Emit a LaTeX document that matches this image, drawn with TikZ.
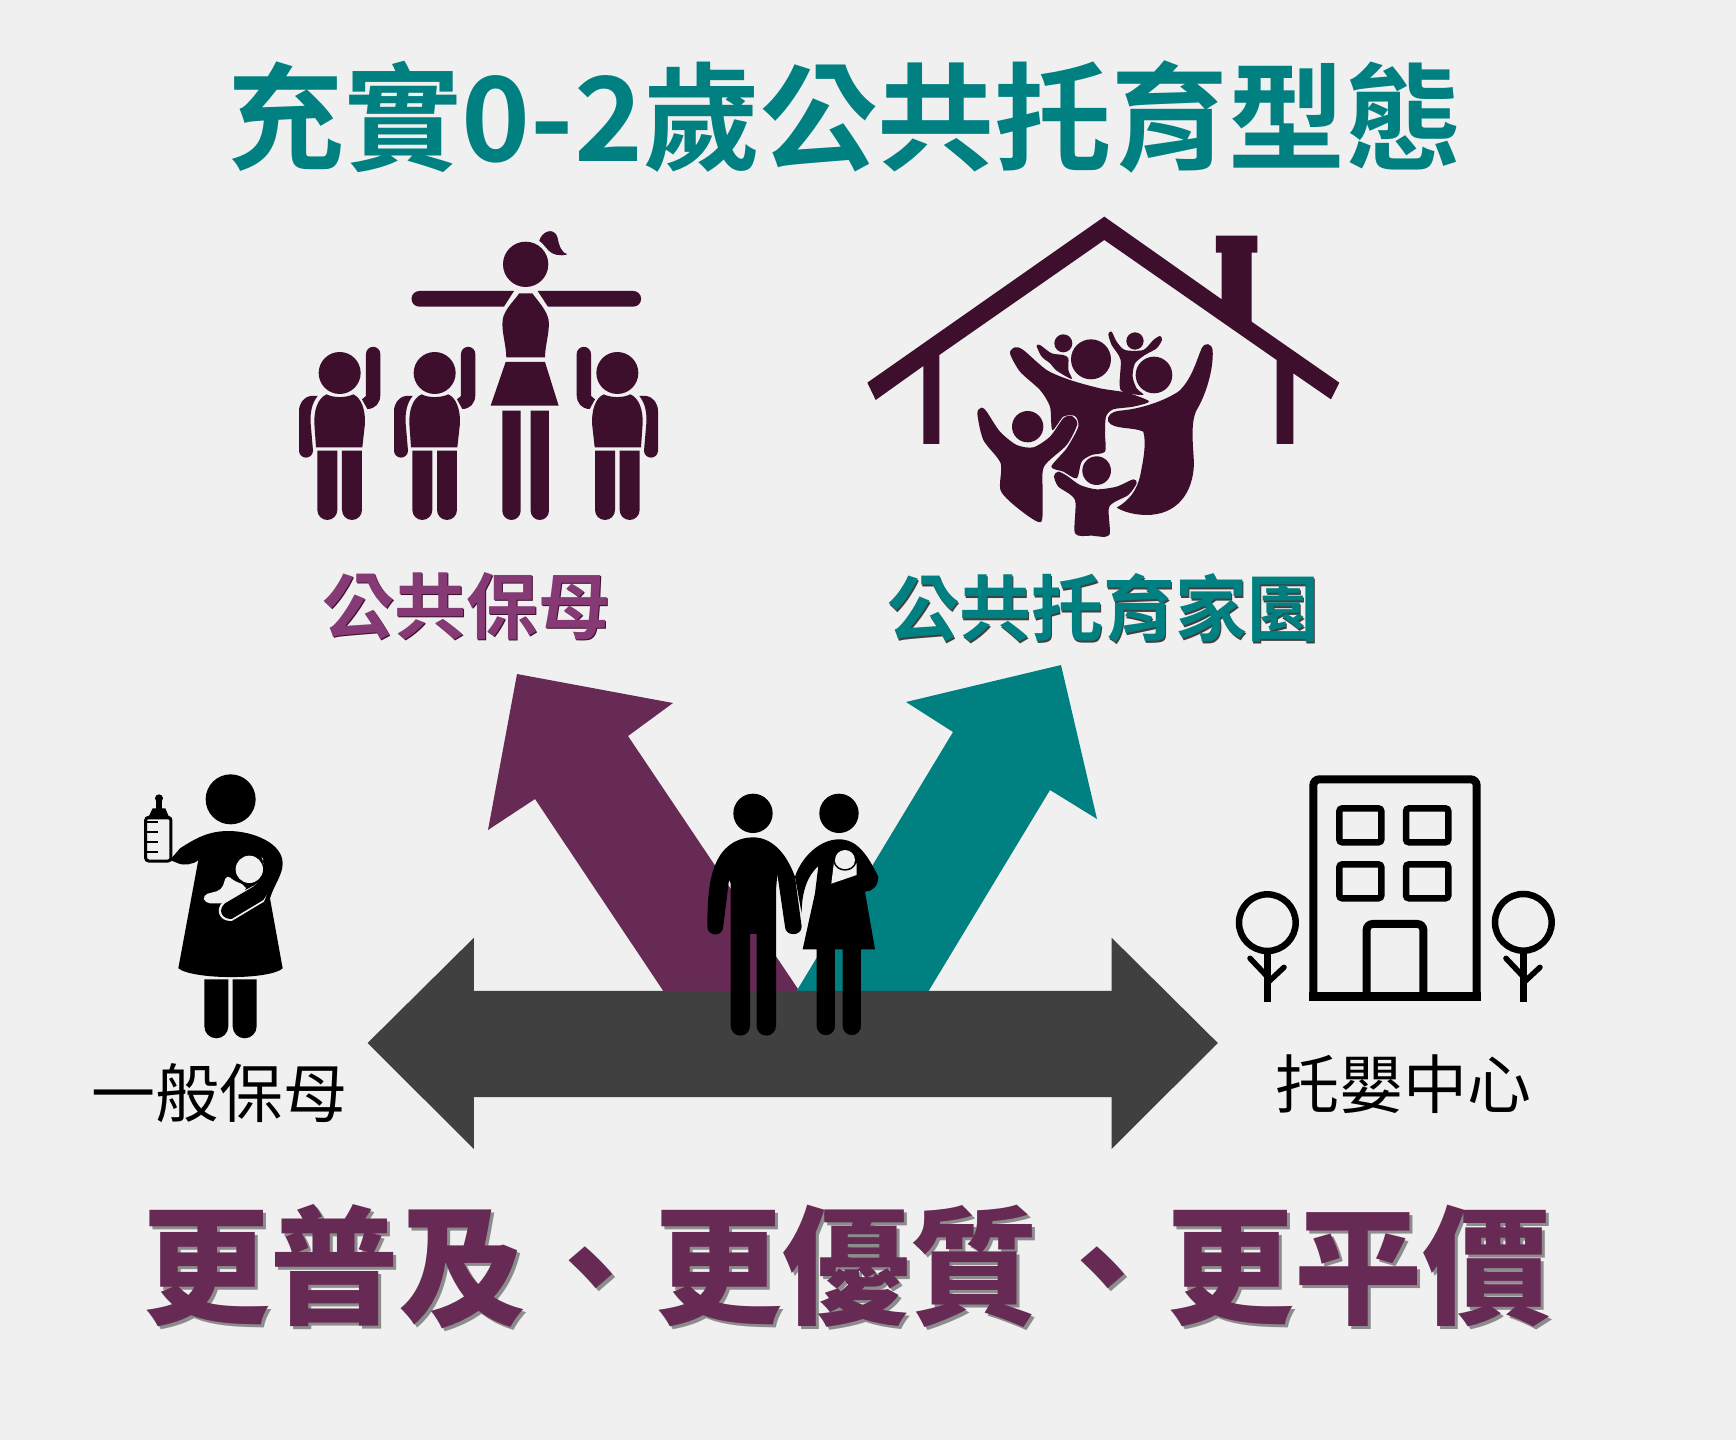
\documentclass[tikz,border=0pt]{standalone}
\usepackage{fontspec}
\setmainfont{Noto Sans CJK TC}[BoldFont={Noto Sans CJK TC Bold}]
\newfontfamily\cjkblack{Noto Sans CJK TC Black}
\definecolor{bgc}{HTML}{F0F0F0}
\definecolor{tealc}{HTML}{008080}
\definecolor{plumc}{HTML}{662A54}
\definecolor{plumlabel}{HTML}{853A75}
\definecolor{darkplum}{HTML}{3D0F2D}
\definecolor{greyc}{HTML}{404040}
\newcommand{\shadowed}[4]{\makebox[0pt][l]{\kern#3\raisebox{-#3}{\textcolor{#4}{#2}}}\textcolor{#1}{#2}}
\newcommand{\roundleg}[4]{(#1,#3) -- (#1,{#4-(#2-#1)/2}) arc[start angle=180,end angle=0,radius={(#2-#1)/2}] -- (#2,#3) -- cycle}
\newcommand{\kidicon}{%
  \fill (179,489) circle (63);
  \fill (140,553) .. controls (160,564) and (198,564) .. (220,553) .. controls (245,565) and (256,600) .. (255,640) -- (247,712) -- (108,712) -- (103,640) .. controls (102,600) and (113,565) .. cycle;
  \fill \roundleg{112}{172}{722}{930};
  \fill \roundleg{186}{246}{722}{930};
  \fill (113,558) -- (92,558) .. controls (70,562) and (57,580) .. (57,605) -- (57,722) arc[start angle=180,end angle=0,radius=21] -- (92,640) .. controls (90,610) and (95,580) .. cycle;
  \fill (258,432) arc[start angle=180,end angle=360,radius=21.5] -- (301,555) .. controls (301,580) and (285,597) .. (262,597) -- (246,568) -- (258,558) -- cycle;
}
\tikzset{
  zoomframe/.style 2 args={shift={(#1,#2)},x=0.3333pt,y=-0.3333pt},
  lbl/.style={inner sep=0pt,outer sep=0pt,anchor=center},
  win/.style={draw=black,line width=6.5pt,rounded corners=3pt},
  treeline/.style={draw=black,line width=6.5pt},
  branch/.style={draw=black,line width=5.5pt,line cap=round},
}
\begin{document}
\begin{tikzpicture}[x=1pt,y=-1pt]
\fill[bgc] (0,0) rectangle (1736,1440);
\useasboundingbox (0,0) rectangle (1736,1440);

% ---------- titles ----------
\node[lbl,text=tealc,font=\fontsize{117}{117}\selectfont\bfseries] (title) at (845,117) {充實0-2歲公共托育型態};
\node[lbl,font=\fontsize{72}{72}\selectfont\bfseries] (pubnanny) at (466,607) {\shadowed{plumlabel}{公共保母}{1.5pt}{darkplum}};
\node[lbl,font=\fontsize{72}{72}\selectfont\bfseries] (pubhome) at (1103,609) {\shadowed{tealc}{公共托育家園}{1.5pt}{black!75}};
\node[lbl,text=black,font=\fontsize{64}{64}\selectfont] (nanny) at (219,1093) {一般保母};
\node[lbl,text=black,font=\fontsize{64}{64}\selectfont] (center) at (1403,1084) {托嬰中心};
\node[lbl,font=\fontsize{128}{128}\selectfont\cjkblack] (slogan) at (846,1268) {\shadowed{plumc}{更普及、更優質、更平價}{3pt}{black!45}};

% ---------- arrows ----------
\fill[plumc] (517,674) -- (673,703) -- (628,736) -- (800,992) -- (664,992) -- (535,799) -- (488,830) -- cycle;
\fill[tealc] (1061,665) -- (906,702) -- (953,732) -- (796,992) -- (928,992) -- (1050,790) -- (1097,819) -- cycle;
\fill[greyc] (367.6,1043) -- (473.9,937.7) -- (473.9,990.9) -- (1111.6,990.9) -- (1111.6,937.7) -- (1217.8,1043) -- (1111.6,1149) -- (1111.6,1097) -- (473.9,1097) -- (473.9,1149) -- cycle;

% ---------- teacher and children ----------
\begin{scope}[zoomframe={280}{210},darkplum]
  \fill (737,163) circle (68);
  \fill (778,92) .. controls (785,65) and (820,50) .. (832,80) .. controls (838,110) and (845,128) .. (862,133) .. controls (840,140) and (815,135) .. (800,115) .. controls (792,105) and (785,98) .. cycle;
  \fill (418,243) -- (702,243) -- (672,290) -- (418,290) arc[start angle=90,end angle=270,radius=23.5] -- cycle;
  \fill (773,243) -- (1060,243) arc[start angle=-90,end angle=90,radius=23.5] -- (804,290) -- cycle;
  \fill (718,250) -- (757,250) .. controls (775,275) and (800,300) .. (806,330) .. controls (810,365) and (796,400) .. (795,442) -- (679,442) .. controls (678,400) and (664,365) .. (668,330) .. controls (672,300) and (700,275) .. cycle;
  \fill (677,456) -- (795,456) -- (836,587) -- (632,587) -- cycle;
  \fill \roundleg{667}{722}{602}{930};
  \fill \roundleg{752}{807}{602}{930};
  \kidicon
\end{scope}
\begin{scope}[zoomframe={375}{210},darkplum]
  \kidicon
\end{scope}
\begin{scope}[shift={(677,210)},x=-0.3333pt,y=-0.3333pt,darkplum]
  \kidicon
\end{scope}

% ---------- house and family ----------
\begin{scope}[zoomframe={850}{200},darkplum]
  \fill (763,50) -- (1115,298) -- (1115,158) -- (1098,158) -- (1098,107) -- (1222,107) -- (1222,158) -- (1205,158) -- (1205,365) -- (1468,548) -- (1443,598) -- (1330,520) -- (1330,732) -- (1280,732) -- (1280,480) -- (763,120) -- (268,465) -- (268,732) -- (220,732) -- (220,498) -- (77,600) -- (52,548) -- cycle;
  \fill (640,430) circle (27);
  \fill (723,478) circle (60);
  \fill (855,423) circle (26);
  \fill (912,525) circle (55);
  \fill (533,680) circle (47);
  \fill (740,812) circle (43);
  % small child top left
  \fill plot[smooth cycle,tension=0.45] coordinates {(560,438) (570,435) (605,460) (640,465) (655,475) (655,510) (665,537) (620,512) (600,490) (575,470)};
  % small child top right
  \fill plot[smooth cycle,tension=0.45] coordinates {(775,402) (785,395) (800,425) (825,450) (880,450) (910,420) (930,408) (936,420) (920,445) (885,465) (855,490) (848,530) (860,565) (880,585) (812,570) (812,480) (785,435)};
  % central parent
  \fill plot[smooth cycle,tension=0.45] coordinates {(480,460) (495,442) (520,450) (590,510) (660,540) (750,565) (830,578) (897,604) (850,620) (790,628) (768,650) (765,700) (765,755) (725,765) (695,785) (680,835) (640,815) (604,800) (650,745) (685,680) (675,648) (640,650) (607,690) (600,620) (570,570) (510,515)};
  % left child
  \fill plot[smooth cycle,tension=0.45] coordinates {(382,640) (395,623) (410,635) (450,695) (500,735) (550,742) (600,710) (640,655) (665,648) (682,672) (650,735) (582,800) (578,880) (573,966) (510,930) (452,872) (452,790) (400,720)};
  % right parent
  \fill (800,923) .. controls (840,900) and (860,870) .. (870,830) .. controls (880,780) and (890,730) .. (880,695) .. controls (850,680) and (790,690) .. (775,665) .. controls (770,645) and (785,635) .. (810,632) .. controls (860,628) and (930,610) .. (985,575) .. controls (1025,540) and (1040,480) .. (1055,445) .. controls (1065,425) and (1085,430) .. (1088,450) .. controls (1092,510) and (1065,590) .. (1040,630) .. controls (1020,670) and (1030,740) .. (1032,790) .. controls (1030,880) and (980,945) .. (890,945) .. controls (860,945) and (825,938) .. cycle;
  % bottom child
  \fill plot[smooth cycle,tension=0.45] coordinates {(612,828) (625,815) (650,827) (690,855) (740,868) (800,860) (850,838) (860,850) (835,885) (778,920) (778,1005) (725,1007) (675,1000) (675,900) (625,860)};
\end{scope}

% ---------- nanny with baby ----------
\begin{scope}[zoomframe={130}{760},black]
  \fill (302,118) circle (75);
  \fill (150,265) .. controls (190,240) and (230,213) .. (295,213) .. controls (370,213) and (458,250) .. (458,310) .. controls (458,345) and (432,375) .. (420,415) -- (458,625) .. controls (420,660) and (190,660) .. (145,625) -- (205,300) .. controls (190,315) and (160,315) .. (150,312) -- (120,300) -- cycle;
  \fill \roundleg{223}{295}{658}{835};
  \fill \roundleg{308}{380}{658}{835};
  % bottle
  \draw[line width=3pt,rounded corners=3pt,fill=bgc] (47,172) rectangle (123,303);
  \fill (87,115) circle (12);
  \fill (78,120) rectangle (96,150);
  \fill (52,178) -- (68,145) -- (106,145) -- (120,178) -- cycle;
  \foreach \yy in {187,216,247,277}{\fill (50,\yy-3) rectangle (85,\yy+3);}
  % baby
  \fill[bgc] (358,328) circle (41);
  \fill[bgc,rounded corners=5pt] (290,343) -- (310,362) -- (345,375) -- (350,395) -- (285,430) -- (225,430) -- (218,405) -- (275,390) -- cycle;
  \fill[bgc] (395,290) .. controls (415,320) and (410,350) .. (375,375) -- (280,425) .. controls (255,445) and (265,485) .. (305,483) -- (402,425) -- (420,380) -- cycle;
  \fill (398,300) .. controls (410,335) and (395,360) .. (370,380) -- (285,430) .. controls (262,450) and (275,478) .. (305,477) -- (400,420) -- (440,360) -- (450,300) -- cycle;
\end{scope}

% ---------- couple ----------
\begin{scope}[zoomframe={690}{780},black]
  \fill (189,100) circle (59);
  \fill (447,100) circle (59);
  \fill (52,438) .. controls (52,340) and (60,280) .. (85,235) .. controls (110,190) and (150,172) .. (189,172) .. controls (240,172) and (285,210) .. (315,290) -- (335,440) .. controls (335,470) and (285,470) .. (285,440) -- (262,282) -- (258,330) -- (258,738) arc[start angle=0,end angle=180,radius=29] -- (200,462) -- (180,462) -- (180,738) arc[start angle=0,end angle=180,radius=29] -- (122,310) -- (117,300) -- (100,438) .. controls (100,472) and (52,472) .. cycle;
  \fill (315,290) .. controls (335,230) and (390,178) .. (447,178) .. controls (500,178) and (530,220) .. (565,290) .. controls (565,320) and (545,335) .. (525,335) -- (555,508) -- (513,508) -- (513,738) arc[start angle=0,end angle=180,radius=27.5] -- (458,508) -- (435,508) -- (435,738) arc[start angle=0,end angle=180,radius=27.5] -- (380,508) -- (338,508) -- (375,340) -- (385,258) .. controls (355,285) and (335,330) .. (335,400) -- cycle;
  \fill[bgc] (432,245) -- (424,311) -- (500,285) -- (500,250) -- cycle;
  \fill[bgc] (465,240) circle (30);
  \draw[line width=1.5pt] (432,245) .. controls (440,278) and (490,278) .. (498,245);
\end{scope}

% ---------- building with trees ----------
\begin{scope}[zoomframe={1220}{760},black]
  \draw[line width=8pt,rounded corners=6pt] (280,722) -- (280,58) -- (770,58) -- (770,722);
  \fill (267,697) rectangle (783,722);
  \draw[win] (358,145) rectangle (484,247);
  \draw[win] (558,145) rectangle (685,247);
  \draw[win] (358,313) rectangle (484,415);
  \draw[win] (558,313) rectangle (685,415);
  \draw[line width=8pt,rounded corners=6pt] (440,710) -- (440,492) -- (610,492) -- (610,710);
  \draw[treeline] (142,488) circle (85);
  \draw[treeline] (142,573) -- (142,727);
  \draw[branch] (90,595) -- (142,650);
  \draw[branch] (192,622) -- (146,665);
  \draw[treeline] (910,487) circle (85);
  \draw[treeline] (910,572) -- (910,725);
  \draw[branch] (858,595) -- (910,650);
  \draw[branch] (960,622) -- (914,665);
\end{scope}
\end{tikzpicture}
\end{document}
